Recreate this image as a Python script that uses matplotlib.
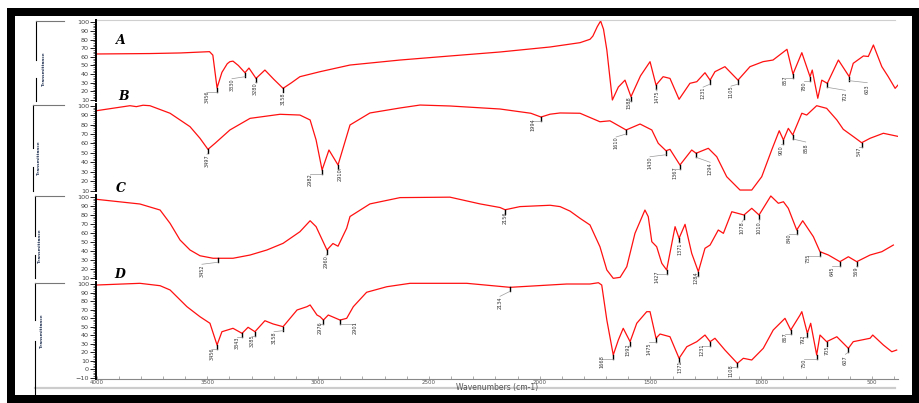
import numpy as np
import matplotlib.pyplot as plt
from matplotlib.lines import Line2D
from matplotlib.patches import Rectangle
from matplotlib.transforms import IdentityTransform

W, H = 920, 403

# FTIR spectra, wavenumber (cm-1) vs transmittance (%)
wn_a = [4000, 3760, 3620, 3490, 3475, 3456, 3434, 3410, 3398, 3384, 3360, 3330, 3312, 3280,
        3240, 3200, 3158, 3120, 3082, 2991, 2856, 2630, 2404, 2179, 1953, 1818, 1773, 1760,
        1740, 1725, 1712, 1697, 1672, 1645, 1615, 1588, 1545, 1502, 1475, 1443, 1412, 1371,
        1322, 1291, 1254, 1231, 1209, 1164, 1105, 1051, 992, 947, 884, 857, 817, 780, 770,
        745, 727, 702, 652, 603, 585, 539, 517, 494, 456, 427, 396, 383]
t_a = [63.3, 63.8, 64.5, 66, 62, 24, 42, 52, 54.4, 55, 50, 41.6, 47, 35,
       44.7, 34, 23.5, 30, 37, 42.8, 50.5, 56.3, 61, 65.6, 71.4, 76.4, 80.3, 84,
       95, 101.5, 92, 68, 10, 25, 33, 13.8, 38, 54.4, 27.3, 37, 35, 10.8,
       29.3, 31.2, 41.6, 33, 42.8, 48.6, 33, 48.6, 54.4, 56.3, 68.7, 40, 64.8, 37, 44.7,
       12, 33, 29.3, 56.3, 37, 52.5, 61, 60.4, 73.7, 48.6, 37, 23.5, 27.3]

wn_b = [4000, 3849, 3820, 3790, 3759, 3668, 3578, 3533, 3497, 3465, 3398, 3307, 3172, 3082,
        3036, 3009, 2982, 2951, 2910, 2856, 2766, 2630, 2540, 2405, 2179, 2040, 1994, 1953,
        1908, 1818, 1728, 1683, 1610, 1547, 1494, 1465, 1430, 1412, 1367, 1314, 1294, 1276,
        1239, 1201, 1156, 1096, 1043, 998, 953, 919, 900, 878, 858, 817, 795, 750, 705, 659,
        630, 584, 547, 509, 449, 383]
t_b = [94.7, 100, 99, 100.5, 100, 92, 77.8, 65.5, 53.8, 60.2, 74.3, 86.6, 90.9, 90.1,
       84.9, 63.7, 31.9, 53.1, 37.2, 79.6, 92.3, 97.6, 100.7, 99.7, 96.5, 92, 88, 91,
       92.3, 92, 83, 84, 74.3, 80.6, 74.3, 60.2, 52.3, 53.8, 37.2, 53.1, 49.6, 51.4,
       54.9, 46, 24.8, 10.7, 10.7, 24.8, 53.1, 73.5, 63.7, 76, 69, 92, 90.1, 100, 97.2, 84.9,
       75, 67.2, 60.8, 65.5, 70.8, 67.5]

wn_c = [4000, 3804, 3713, 3668, 3623, 3578, 3533, 3474, 3384, 3307, 3231, 3158, 3082, 3036,
        3009, 2960, 2933, 2910, 2871, 2856, 2766, 2630, 2405, 2269, 2179, 2156, 2089, 1953,
        1908, 1863, 1818, 1773, 1728, 1697, 1668, 1637, 1607, 1570, 1525, 1510, 1494, 1472,
        1449, 1427, 1389, 1371, 1344, 1314, 1284, 1254, 1231, 1194, 1171, 1133, 1078, 1043,
        1010, 957, 923, 900, 878, 840, 813, 765, 735, 697, 645, 607, 569, 509, 456, 404]
t_c = [97.1, 91.9, 85.2, 70.4, 51.9, 40.8, 34.4, 31.6, 31.6, 35.2, 40.8, 48.2, 61.1, 73.3,
       66.7, 40.8, 48, 45, 65, 78, 92, 99, 99.5, 92, 88, 85.5, 89, 90.5,
       89, 84, 76, 68.6, 44.4, 18.6, 9.3, 10.4, 22.2, 59.3, 85.2, 77.8, 50, 44.4,
       26, 18.6, 66.7, 53.8, 69.3, 37.1, 16.7, 42.7, 46.3, 63, 59.3, 83.3, 79.7, 87.1,
       79.7, 100.8, 92.7, 94.4, 87.1, 63, 73.3, 55.6, 38.9, 35.2, 27.8, 33.3, 27.8, 35.2, 38.9, 46.3]

wn_d = [4000, 3804, 3713, 3668, 3592, 3533, 3488, 3456, 3434, 3384, 3343, 3316, 3285, 3240,
        3203, 3158, 3095, 3050, 3036, 3005, 2991, 2976, 2954, 2901, 2871, 2841, 2781, 2690,
        2585, 2329, 2134, 2029, 1878, 1773, 1735, 1720, 1697, 1668, 1645, 1623, 1592, 1562,
        1517, 1502, 1475, 1457, 1412, 1371, 1336, 1291, 1254, 1231, 1209, 1164, 1108, 1081,
        1043, 991, 946, 893, 867, 825, 817, 792, 777, 750, 735, 705, 659, 607, 585, 509, 497,
        449, 411, 389]
t_d = [98.8, 100.8, 98, 93, 73.4, 61.6, 53.9, 28.4, 44, 48, 42.1, 49.2, 44, 56.9,
       53.1, 49.9, 69.5, 73.4, 75.4, 63.6, 61.6, 57.7, 63.6, 57.7, 59.7, 73.4, 90.3, 96.8,
       100.8, 100.8, 96.1, 97.7, 100, 100, 101.5, 98.8, 57.7, 16.7, 34.3, 48, 32.3, 53.9,
       67.5, 67.5, 36.3, 41.3, 38.1, 12.8, 26.4, 32.3, 40.1, 32.3, 36.3, 22.5, 6.9, 12.8,
       10.8, 24.5, 46, 59.7, 46, 63.6, 67.5, 42.1, 53.9, 16.7, 40.1, 32.3, 38.1, 24.5, 32.3, 36.3, 40.1,
       28.4, 20.5, 22.5]

# labelled bands (cm-1)
peaks_a = [3456, 3330, 3280, 3158, 1588, 1475, 1231, 1105, 857, 780, 702, 603]
peaks_b = [3497, 2982, 2910, 1994, 1610, 1430, 1367, 1294, 900, 858, 547]
peaks_c = [3452, 2960, 2156, 1427, 1371, 1284, 1078, 1010, 840, 735, 645, 569]
peaks_d = [3456, 3343, 3285, 3158, 2976, 2901, 2134, 1668, 1592, 1475, 1371, 1231, 1108,
           867, 792, 750, 705, 607]

# label offsets from the band marker, in pixels (right, down)
off_a = [(-10, 9), (-13, 12), (-1, 10), (0, 10), (-2, 6), (1, 12), (-7, 13), (-7, 12),
         (-8, 6), (-6, 9), (18, 13), (18, 12)]
off_b = [(-1, 11), (-12, 10), (2, 10), (-8, 8), (-10, 13), (-16, 12), (-5, 8), (14, 15),
         (-2, 10), (13, 13), (-3, 9)]
off_c = [(-16, 12), (-1, 12), (0, 8), (-10, 7), (1, 10), (-2, 6), (-2, 13), (0, 13),
         (-8, 8), (-12, 7), (-8, 10), (-1, 10)]
off_d = [(-5, 9), (-5, 9), (-3, 9), (-9, 11), (-3, 8), (15, 8), (-10, 15), (-11, 7),
         (-2, 8), (-7, 10), (1, 8), (-8, 8), (-6, 7), (-6, 7), (-4, 6), (-13, 8), (0, 9), (-3, 12)]

letters = ['A', 'B', 'C', 'D']

# panel geometry in pixels: top, bottom, y-limits, lowest labelled tick
layout = [(20, 101, (8.84, 102.66), 10),
          (104, 191, (9.68, 101.8), 10),
          (195, 279, (8.56, 101.9), 10),
          (282, 379, (-11.5, 102.35), -10)]
letter_pos = [(121, 41), (124, 97), (121, 189), (120, 274)]
ylab_pos = [(44, 69), (39, 158), (40, 246), (42, 331)]
bracket = [(36, 21, 60, 78, 101), (33, 105, 148, 167, 191),
           (35, 196, 236, 255, 278), (35, 283, 320, 341, 395)]

X0, X1 = 96.5, 898


def fx(px):
    return px / W


def fy(py):
    return 1 - py / H


def fig_line(fig, xs, ys, **kw):
    fig.add_artist(Line2D([fx(x) for x in xs], [fy(y) for y in ys],
                          transform=fig.transFigure, **kw))


fig = plt.figure(figsize=(W / 100, H / 100), dpi=100)

# black frame round the whole plot
for (x, y, w, h) in [(7, 8, 913, 8), (7, 8, 8, 395), (912, 8, 8, 395), (7, 395, 913, 8)]:
    fig.add_artist(Rectangle((fx(x), fy(y + h)), w / W, h / H, transform=fig.transFigure,
                             facecolor='black', edgecolor='none'))

fig_line(fig, [97, 895], [20, 20], color='#cfcfcf', lw=0.8)
fig_line(fig, [35, 895], [388, 388], color='#cccccc', lw=1.6)

series = [(wn_a, t_a, peaks_a, off_a), (wn_b, t_b, peaks_b, off_b),
          (wn_c, t_c, peaks_c, off_c), (wn_d, t_d, peaks_d, off_d)]

for i, ((top, bot, ylim, lo), (wn, tr, peaks, offs)) in enumerate(zip(layout, series)):
    ax = fig.add_axes([fx(X0), fy(bot), (X1 - X0) / W, (bot - top) / H])
    ax.patch.set_alpha(0)
    ax.set_xlim(4000, 383)
    ax.set_ylim(*ylim)
    ax.plot(wn, tr, color='#ff1010', lw=0.9)

    ax.set_yticks(np.arange(lo, 101, 10))
    ax.set_yticks(np.arange(lo, 101, 2), minor=True)
    ax.tick_params(axis='y', which='major', direction='out', length=4, width=0.6,
                   labelsize=4.6, labelcolor='#444', pad=1.5)
    ax.tick_params(axis='y', which='minor', direction='out', length=2.5, width=0.4)
    for s in ['top', 'right']:
        ax.spines[s].set_visible(False)
    ax.spines['left'].set_linewidth(1.4)

    if i < 3:
        ax.spines['bottom'].set_visible(False)
        ax.set_xticks([])
    else:
        ax.spines['bottom'].set_color('#888')
        ax.spines['bottom'].set_linewidth(0.8)
        ax.set_xticks(np.arange(4000, 499, -500))
        ax.set_xticks(np.arange(3900, 399, -100), minor=True)
        ax.tick_params(axis='x', which='both', direction='in', length=2.5, width=0.5,
                       color='#888', labelsize=4, labelcolor='#555', pad=0.5)

    # band markers: black tick, grey leader, rotated value
    wn_r, tr_r = np.array(wn)[::-1], np.array(tr)[::-1]
    for p, (dx, dy) in zip(peaks, offs):
        X, Y = ax.transData.transform((p, np.interp(p, wn_r, tr_r)))
        fig.add_artist(Line2D([X, X], [Y, Y - 4], color='black', lw=1.0,
                              transform=IdentityTransform()))
        ey = min(Y - 4, Y - dy + 6)
        fig.add_artist(Line2D([X, X + dx], [Y - 4, ey], color='#999', lw=0.5,
                              transform=IdentityTransform()))
        fig.text(X + dx, Y - dy, str(p), rotation=90, ha='center', va='center',
                 fontsize=3.6, color='#333', transform=IdentityTransform())

    lx, ly = letter_pos[i]
    fig.text(fx(lx), fy(ly), letters[i], ha='center', va='center', fontsize=9,
             family='DejaVu Serif', weight='bold', style='italic')

    tx, ty = ylab_pos[i]
    fig.text(fx(tx), fy(ty), 'Transmittance', rotation=90, ha='center', va='center',
             fontsize=3, weight='bold', color='#2a3a5a')

    bx, b0, b1, b2, b3 = bracket[i]
    fig_line(fig, [bx, bx], [b0, b1], color='black', lw=0.8)
    fig_line(fig, [bx, bx], [b2, b3], color='black', lw=0.8)
    fig_line(fig, [bx, 64], [b0, b0], color='#777', lw=0.8)

fig.text(fx(497), fy(387.5), 'Wavenumbers (cm-1)', ha='center', va='center',
         fontsize=5.5, color='#555')

fig.savefig('out.png', dpi=100)
